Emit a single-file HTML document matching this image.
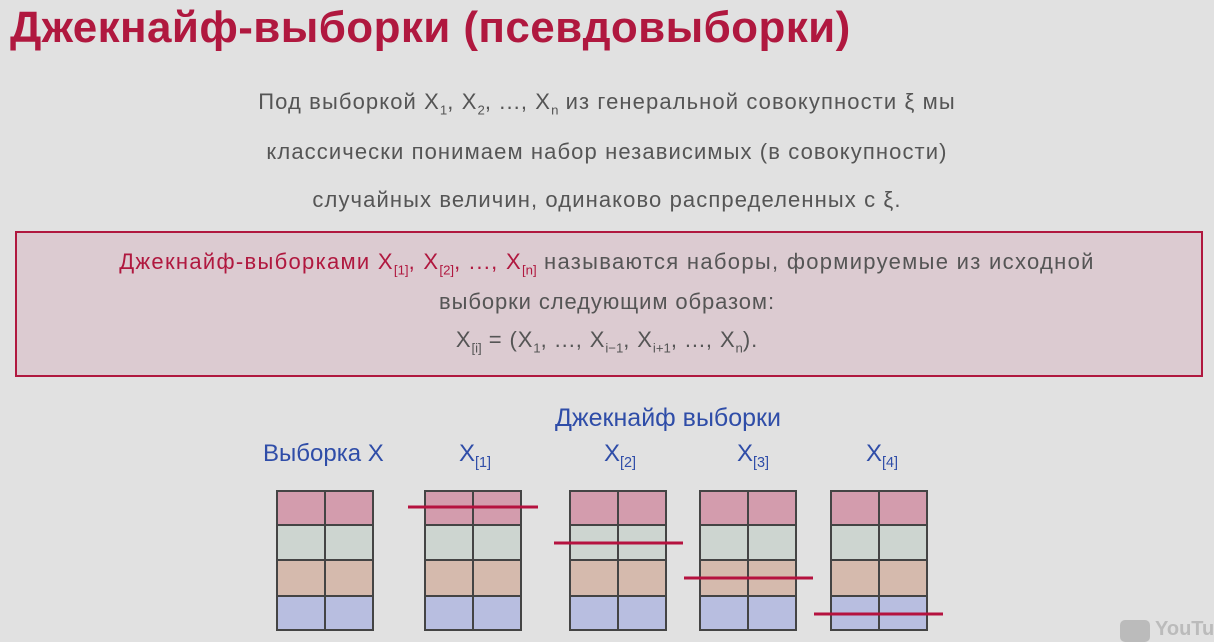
<!DOCTYPE html>
<html><head><meta charset="utf-8"><style>
body{margin:0;width:1214px;height:641px;background:#e1e1e1;font-family:"Liberation Sans",sans-serif;position:relative;overflow:hidden}
.a{position:absolute;white-space:nowrap}
h1{position:absolute;left:10px;top:3px;margin:0;font-size:44px;color:#b0183f;font-weight:bold;letter-spacing:0.4px}
.p{color:#555;font-size:22px;letter-spacing:1.1px;left:0;width:1214px;text-align:center}
.box{position:absolute;left:15px;top:231px;width:1184px;height:142px;border:2px solid #b0183f;background:#dccbd1}
.b{color:#555;font-size:22px;letter-spacing:0.9px;left:0;width:1214px;text-align:center}
.r{color:#b0183f}
.bl{color:#2f4da8;font-size:24px}
sub{font-size:60%;letter-spacing:0}
</style></head><body>
<h1>Джекнайф-выборки (псевдовыборки)</h1>
<div class="a p" style="top:89px">Под выборкой X<sub>1</sub>, X<sub>2</sub>, ..., X<sub>n</sub> из генеральной совокупности ξ мы</div>
<div class="a p" style="top:139px">классически понимаем набор независимых (в совокупности)</div>
<div class="a p" style="top:187px">случайных величин, одинаково распределенных с ξ.</div>
<div class="box"></div>
<div class="a b" style="top:249px;letter-spacing:1.3px"><span class="r">Джекнайф-выборками X<sub>[1]</sub>, X<sub>[2]</sub>, ..., X<sub>[n]</sub></span> называются наборы, формируемые из исходной</div>
<div class="a b" style="top:289px">выборки следующим образом:</div>
<div class="a b" style="top:327px">X<sub>[i]</sub> = (X<sub>1</sub>, ..., X<sub>i−1</sub>, X<sub>i+1</sub>, ..., X<sub>n</sub>).</div>
<div class="a bl" style="left:555px;top:404px;font-size:25px">Джекнайф выборки</div>
<div class="a bl" style="left:263px;top:440px">Выборка X</div>
<div class="a bl" style="left:459px;top:440px">X<sub>[1]</sub></div>
<div class="a bl" style="left:604px;top:440px">X<sub>[2]</sub></div>
<div class="a bl" style="left:737px;top:440px">X<sub>[3]</sub></div>
<div class="a bl" style="left:866px;top:440px">X<sub>[4]</sub></div>
<svg class="a" style="left:0;top:0" width="1214" height="641">
<defs><g id="g">
<rect x="0" y="0" width="98" height="35" fill="#d39cad"/>
<rect x="0" y="35" width="98" height="35" fill="#cdd5d0"/>
<rect x="0" y="70" width="98" height="36" fill="#d5baad"/>
<rect x="0" y="106" width="98" height="35" fill="#b8bee0"/>
<g stroke="#444" stroke-width="2" fill="none">
<rect x="1" y="1" width="96" height="139"/>
<line x1="49" y1="0" x2="49" y2="141"/>
<line x1="0" y1="35" x2="98" y2="35"/>
<line x1="0" y1="70" x2="98" y2="70"/>
<line x1="0" y1="106" x2="98" y2="106"/>
</g></g></defs>
<use href="#g" x="276" y="490"/>
<use href="#g" x="424" y="490"/>
<use href="#g" x="569" y="490"/>
<use href="#g" x="699" y="490"/>
<use href="#g" x="830" y="490"/>
<g stroke="#b5123f" stroke-width="3">
<line x1="408" y1="507" x2="538" y2="507"/>
<line x1="554" y1="543" x2="683" y2="543"/>
<line x1="684" y1="578" x2="813" y2="578"/>
<line x1="814" y1="614" x2="943" y2="614"/>
</g>
</svg>
<div class="a" style="left:1120px;top:620px;width:30px;height:22px;background:#bbb;border-radius:5px"></div>
<div class="a" style="left:1155px;top:618px;color:#bbb;font-size:20px;font-weight:bold">YouTub</div>
</body></html>
